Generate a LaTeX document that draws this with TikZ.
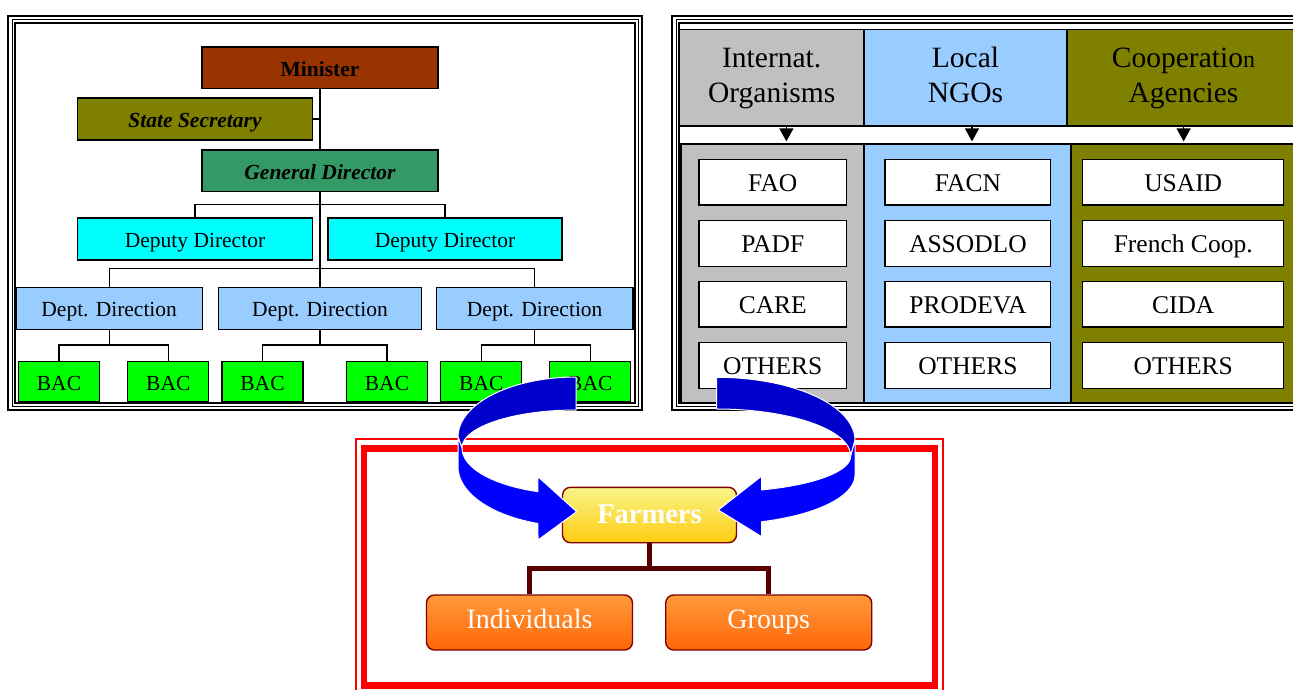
\documentclass[tikz,border=0pt]{standalone}
\usepackage{fontspec}
\setmainfont{Liberation Serif}
\usetikzlibrary{arrows.meta}
\definecolor{cMin}{HTML}{993300}
\definecolor{cOlive}{HTML}{808000}
\definecolor{cSea}{HTML}{339966}
\definecolor{cCyan}{HTML}{00FFFF}
\definecolor{cLBlue}{HTML}{99CCFF}
\definecolor{cGreen}{HTML}{00FF00}
\definecolor{cGray}{HTML}{C0C0C0}
\definecolor{cDark}{HTML}{0000CC}
\definecolor{cBright}{HTML}{0000FF}
\definecolor{cRed}{HTML}{FF0000}
\definecolor{cFarTop}{HTML}{F8F488}
\definecolor{cFarBot}{HTML}{FFCC11}
\definecolor{cOrTop}{HTML}{FF9A3A}
\definecolor{cOrBot}{HTML}{FF6608}
\definecolor{cFBorder}{HTML}{800000}
\definecolor{cFConn}{HTML}{580000}
\newcommand{\myfs}[2]{\fontsize{#1}{#2}\selectfont}
\begin{document}
\begin{tikzpicture}[x=1pt,y=-1pt,
  lp/.style={draw=black, line width=1.3pt, inner sep=0pt, text height=16.6pt, text depth=0pt, font=\myfs{21.5}{24}},
  conn/.style={draw=black, line width=1.1pt},
  hdr/.style={draw=black, line width=1.3pt, inner sep=0pt, align=center, font=\myfs{29.5}{35}},
  col/.style={draw=black, line width=1.3pt, inner sep=0pt},
  wbox/.style={draw=black, fill=white, line width=1.3pt, inner sep=0pt, minimum height=45.7pt, text height=19pt, text depth=0pt, font=\myfs{25.5}{28}},
  hdrarrow/.style={line width=1.2pt, -{Triangle[width=14pt,length=13pt]}},
  fbox/.style={draw=cFBorder, line width=1.4pt, rounded corners=8pt, inner sep=0pt, text=white},
  fconn/.style={draw=cFConn, line width=5pt},
  arrowpart/.style={draw=white, line width=1pt, line join=round}
]
\useasboundingbox (0,0) rectangle (1293,689);
\clip (0,0) rectangle (1293,689);

% ---------- left panel border ----------
\draw[line width=1.6pt] (8,15.7) rectangle (642,410);
\draw[line width=0.9pt] (12,19.7) rectangle (638,406);
\draw[line width=1.6pt] (15,22.7) rectangle (635,403);

% ---------- left panel nodes ----------
\node[lp, fill=cMin, minimum width=236pt, minimum height=41.3pt] (min) at (320,67.7) {\bfseries Minister};
\node[lp, fill=cOlive, minimum width=235pt, minimum height=42pt] (sec) at (195,119) {\bfseries\itshape State Secretary};
\node[lp, fill=cSea, minimum width=236pt, minimum height=41.7pt] (gd) at (320,170.8) {\bfseries\itshape General Director};
\node[lp, fill=cCyan, minimum width=235pt, minimum height=42pt] (dd1) at (195,239) {Deputy Director};
\node[lp, fill=cCyan, minimum width=234pt, minimum height=42pt] (dd2) at (445,239) {Deputy Director};
\node[lp, fill=cLBlue, minimum width=186.7pt, minimum height=41.6pt] (dp1) at (109.2,308.5) {Dept. Direction};
\node[lp, fill=cLBlue, minimum width=203.2pt, minimum height=41.6pt] (dp2) at (320,308.5) {Dept. Direction};
\node[lp, fill=cLBlue, minimum width=196.3pt, minimum height=41.6pt] (dp3) at (534.7,308.5) {Dept. Direction};
\node[lp, fill=cGreen, minimum width=81pt, minimum height=40.3pt] (b1) at (59,381.9) {BAC};
\node[lp, fill=cGreen, minimum width=81pt, minimum height=40.3pt] (b2) at (168.3,381.9) {BAC};
\node[lp, fill=cGreen, minimum width=81pt, minimum height=40.3pt] (b3) at (262.5,381.9) {BAC};
\node[lp, fill=cGreen, minimum width=81pt, minimum height=40.3pt] (b4) at (387,381.9) {BAC};
\node[lp, fill=cGreen, minimum width=81pt, minimum height=40.3pt] (b5) at (481.3,381.9) {BAC};
\node[lp, fill=cGreen, minimum width=81pt, minimum height=40.3pt] (b6) at (590.3,381.9) {BAC};

% ---------- left panel connectors ----------
\draw[conn] (min.south) -- (gd.north);
\draw[conn] (sec.east) -- (sec.east -| min.south);
\draw[conn] (gd.south) -- (dp2.north);
\coordinate (jg) at (320,204.3);
\draw[conn] (dd1.north) |- (jg) -| (dd2.north);
\coordinate (jd) at (320,268.3);
\draw[conn] (dp1.north) |- (jd) -| (dp3.north);
\coordinate (j1) at (109.2,345);
\coordinate (j2) at (320,345);
\coordinate (j3) at (534.7,345);
\draw[conn] (dp1.south) -- (j1);
\draw[conn] (b1.north) |- (j1) -| (b2.north);
\draw[conn] (dp2.south) -- (j2);
\draw[conn] (b3.north) |- (j2) -| (b4.north);
\draw[conn] (dp3.south) -- (j3);
\draw[conn] (b5.north) |- (j3) -| (b6.north);

% ---------- right panel border ----------
\draw[line width=1.6pt] (672,15.7) rectangle (1330,410);
\draw[line width=0.9pt] (676,19.7) rectangle (1326,406);
\draw[line width=1.6pt] (679,22.7) rectangle (1323,403);

% ---------- right panel headers ----------
\node[hdr, fill=cGray, minimum width=184.6pt, minimum height=96.7pt] (h1) at (771.7,77.7) {\strut Internat.\\\strut Organisms};
\node[hdr, fill=cLBlue, minimum width=203pt, minimum height=96.7pt] (h2) at (965.5,77.7) {\strut Local\\\strut NGOs};
\node[hdr, fill=cOlive, minimum width=233pt, minimum height=96.7pt] (h3) at (1183.5,77.7) {\strut Cooperatio{\myfs{24}{35}n}\\\strut Agencies};

% ---------- right panel columns ----------
\node[col, fill=cGray, minimum width=183pt, minimum height=258.7pt] (c1) at (772.5,273.4) {};
\node[col, fill=cLBlue, minimum width=207pt, minimum height=258.7pt] (c2) at (967.5,273.4) {};
\node[col, fill=cOlive, minimum width=229pt, minimum height=258.7pt] (c3) at (1185.5,273.4) {};

\draw[hdrarrow] ([xshift=14.7pt]h1.south) -- ([xshift=13.9pt,yshift=2pt]c1.north);
\draw[hdrarrow] ([xshift=6.5pt]h2.south) -- ([xshift=4.5pt,yshift=2pt]c2.north);
\draw[hdrarrow] ([xshift=0.1pt]h3.south) -- ([xshift=-1.9pt,yshift=2pt]c3.north);

% ---------- white boxes ----------
\node[wbox, minimum width=147.5pt] (fao) at (772.8,182.2) {FAO};
\node[wbox, minimum width=147.5pt] (padf) at (772.8,243.4) {PADF};
\node[wbox, minimum width=147.5pt] (care) at (772.8,304.2) {CARE};
\node[wbox, minimum width=147.5pt] (oth1) at (772.8,365.3) {OTHERS};
\node[wbox, minimum width=165.8pt] (facn) at (967.9,182.2) {FACN};
\node[wbox, minimum width=165.8pt] (asso) at (967.9,243.4) {ASSODLO};
\node[wbox, minimum width=165.8pt] (prod) at (967.9,304.2) {PRODEVA};
\node[wbox, minimum width=165.8pt] (oth2) at (967.9,365.3) {OTHERS};
\node[wbox, minimum width=201pt] (usaid) at (1183.2,182.2) {USAID};
\node[wbox, minimum width=201pt] (fren) at (1183.2,243.4) {French Coop.};
\node[wbox, minimum width=201pt] (cida) at (1183.2,304.2) {CIDA};
\node[wbox, minimum width=201pt] (oth3) at (1183.2,365.3) {OTHERS};

% ---------- farmers frame ----------
\draw[cRed, line width=2pt] (355.5,439) rectangle (943.3,697);
\draw[cRed, line width=6.5pt] (364,448.5) rectangle (935,685.5);

\node[fbox, top color=cFarTop, bottom color=cFarBot, minimum width=174pt, minimum height=55.4pt, text height=16.6pt, text depth=0pt, font=\myfs{28.5}{30}\bfseries] (far) at (649.5,515) {Farmers};
\node[fbox, top color=cOrTop, bottom color=cOrBot, minimum width=206pt, minimum height=55pt, text height=20pt, text depth=8.4pt, font=\myfs{28}{30}] (ind) at (529.5,622.5) {Individuals};
\node[fbox, top color=cOrTop, bottom color=cOrBot, minimum width=206pt, minimum height=55pt, text height=20pt, text depth=8.4pt, font=\myfs{28}{30}] (grp) at (768.7,622.5) {Groups};

\coordinate (jf) at (649.5,568.3);
\draw[fconn] (far.south) -- (jf);
\draw[fconn, line join=miter] (ind.north) |- (jf) -| (grp.north);

% ---------- blue curved arrows ----------
% left arrow, back part
\filldraw[arrowpart, fill=cDark] (576,377) -- plot[domain=270:180,samples=40] ({576+118*cos(\x)},{437+60*sin(\x)}) -- (462,448) -- plot[domain=180:270,samples=40] ({576+114*cos(\x)},{448+38*sin(\x)}) -- cycle;
% left arrow, front part
\filldraw[arrowpart, fill=cBright] (458,437) -- plot[domain=180:108.8,samples=40] ({576+118*cos(\x)},{466.7+60*sin(\x)}) -- (538,540) -- (576.7,511.7) -- (538,476.7) -- plot[domain=109.5:180,samples=40] ({576+114*cos(\x)},{448+46.3*sin(\x)}) -- cycle;
% right arrow, back part
\filldraw[arrowpart, fill=cDark] (716.7,377.3) -- plot[domain=270:360,samples=40] ({716.7+138.3*cos(\x)},{440.3+63*sin(\x)}) -- plot[domain=360:270,samples=40] ({716.7+134*cos(\x)},{456+47*sin(\x)}) -- cycle;
% right arrow, front part
\filldraw[arrowpart, fill=cBright] (855,440.3) -- plot[domain=0:71.03,samples=40] ({716.7+138.3*cos(\x)},{475+49.4*sin(\x)}) -- (761.7,536.7) -- (718.3,510) -- (761.7,476) -- plot[domain=70.4:0,samples=40] ({716.7+134*cos(\x)},{456+36*sin(\x)}) -- cycle;
\end{tikzpicture}
\end{document}
